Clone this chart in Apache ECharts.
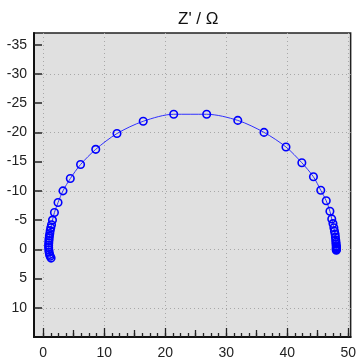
<!DOCTYPE html>
<html>
<head>
<meta charset="utf-8">
<script src="https://cdn.jsdelivr.net/npm/echarts@6/dist/echarts.min.js"></script>
<style>
  html, body { margin: 0; padding: 0; background: #fff; }
  #chart { width: 359px; height: 360px; }
</style>
</head>
<body>
<div id="chart"></div>
<script>
const zReal = [
  1.30, 1.15, 1.05, 0.98, 0.93, 0.90, 0.90, 0.92, 0.95, 0.98,
  1.03, 1.09, 1.16, 1.25, 1.37, 1.53, 1.85, 2.44, 3.25, 4.45,
  6.13, 8.62, 12.1, 16.4, 21.4, 26.8, 31.9, 36.2, 39.8, 42.4,
  44.3, 45.5, 46.4, 47.0, 47.3, 47.5, 47.65, 47.75, 47.85, 47.9,
  47.95, 48.0, 48.0, 48.05, 48.05, 48.05, 48.05, 48.05, 48.05, 48.05
]
// Z'' (imaginary part), axis is inverted so negative values go up
const zImag = [
  1.5, 1.2, 0.9, 0.5, 0.1, -0.3, -0.7, -1.1, -1.5, -1.9,
  -2.3, -2.7, -3.2, -3.7, -4.2, -5.0, -6.3, -8.0, -10.0, -12.1,
  -14.5, -17.1, -19.8, -21.9, -23.1, -23.1, -22.05, -20.0, -17.5, -14.8,
  -12.4, -10.1, -8.3, -6.5, -5.2, -4.4, -3.7, -3.1, -2.6, -2.1,
  -1.6, -1.2, -0.9, -0.6, -0.45, -0.3, -0.15, -0.05, 0.05, 0.15
]

const xLabels = [0, 10, 20, 30, 40, 50]
const xMidTicks = [5, 15, 25, 35, 45]
const xMinorTicks = []
for (let v = 0; v <= 50; v += 1.25) xMinorTicks.push(v)
const yLabels = [-35, -30, -25, -20, -15, -10, -5, 0, 5, 10]
const yGrid = [-30, -20, -10, 0, 10]
const yMidTicks = [-35, -25, -15, -5, 5]

const xRange = {min: -1.5, max: 50.4}
const yRange = {min: -37, max: 15}

const font = 'Liberation Sans, Arial, sans-serif'
const dotted = {show: true, lineStyle: {color: '#a8a8a8', type: [1, 3], width: 1}}

// an axis that only draws inside ticks at the given values
const tickAxis = (range, values, length, width, extra) => ({
  type: 'value', ...range, ...extra, offset: 0,
  axisLine: {show: false, onZero: false},
  axisTick: {show: true, inside: true, length: length, customValues: values, lineStyle: {color: '#222', width: width}},
  axisLabel: {show: false},
  splitLine: {show: false}
})

const chart = echarts.init(document.getElementById('chart'))
chart.setOption({
  animation: false,
  title: {
    text: "Z' / Ω",
    left: 173,
    top: 6,
    textStyle: {fontFamily: font, fontSize: 17, fontWeight: 'normal', color: '#111'}
  },
  grid: {
    left: 34, right: 6, top: 33, bottom: 23,
    show: true,
    backgroundColor: '#e0e0e0',
    borderColor: '#222',
    borderWidth: 1.5
  },
  xAxis: [
    {
      type: 'value', ...xRange, position: 'bottom',
      axisLine: {show: true, onZero: false, lineStyle: {color: '#111', width: 2}},
      axisTick: {show: false, customValues: xLabels},
      axisLabel: {customValues: xLabels, margin: 9, fontFamily: font, fontSize: 14, color: '#222'},
      splitLine: dotted
    },
    tickAxis(xRange, xLabels, 9, 1.3, {position: 'bottom'}),
    tickAxis(xRange, xMidTicks, 7, 1.3, {position: 'bottom'}),
    tickAxis(xRange, xMinorTicks, 4, 1.3, {position: 'bottom'})
  ],
  yAxis: [
    {
      type: 'value', ...yRange, inverse: true, position: 'left',
      axisLine: {show: true, onZero: false, lineStyle: {color: '#111', width: 2}},
      axisTick: {show: true, inside: true, length: 8, customValues: yGrid, lineStyle: {color: '#222', width: 1.5}},
      axisLabel: {customValues: yLabels, margin: 7, fontFamily: font, fontSize: 14, color: '#222'},
      splitLine: dotted
    },
    tickAxis(yRange, yMidTicks, 8, 1.5, {position: 'left', inverse: true})
  ],
  series: [
    {
      type: 'line',
      xAxisIndex: 0,
      yAxisIndex: 0,
      data: zReal.map((x, i) => [x, zImag[i]]),
      smooth: 0.3,
      symbol: 'circle',
      symbolSize: 7.5,
      itemStyle: {color: 'rgba(0,0,0,0)', borderColor: '#0000ff', borderWidth: 1.6},
      lineStyle: {color: '#3030ff', width: 1}
    }
  ]
})
</script>
</body>
</html>
